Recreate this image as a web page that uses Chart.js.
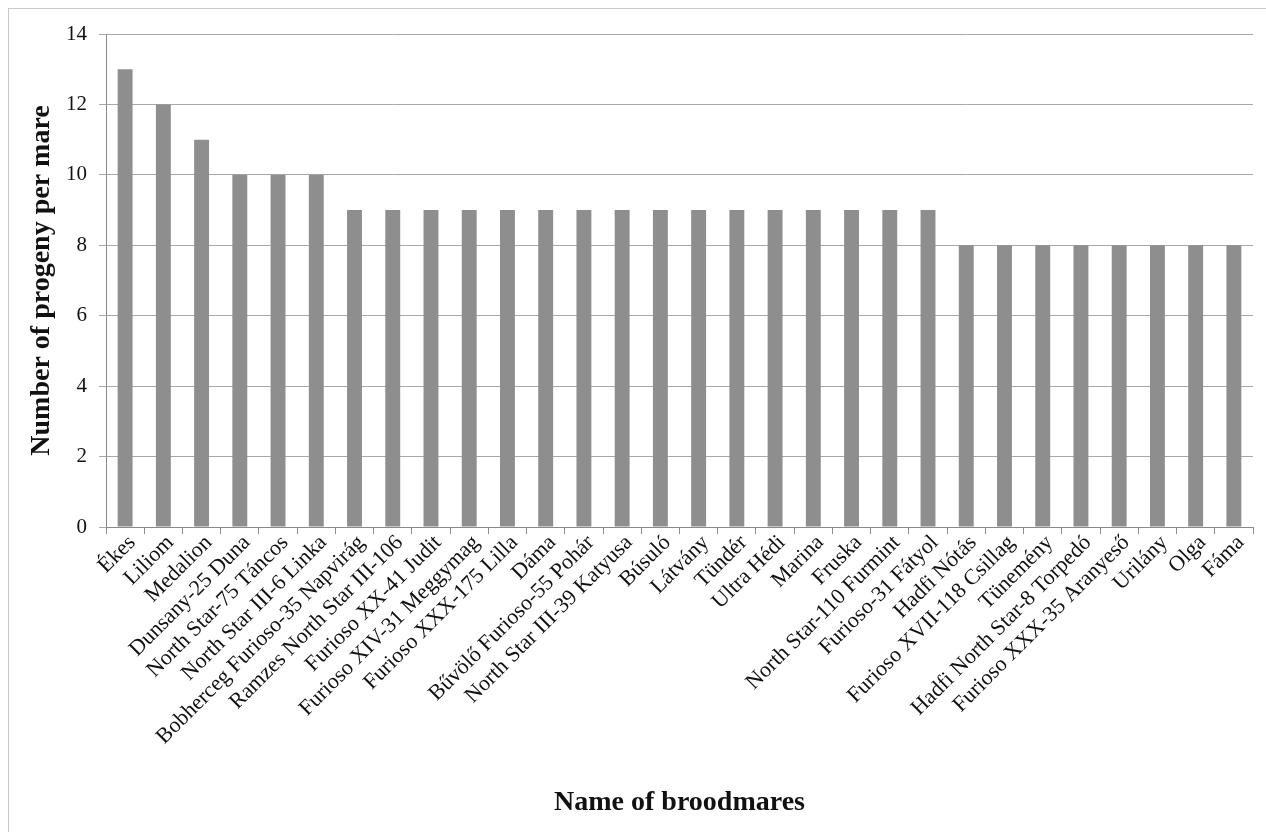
<!DOCTYPE html>
<html>
<head>
<meta charset="utf-8">
<script src="https://cdn.jsdelivr.net/npm/chart.js@4"></script>
<style>
    body { margin: 0; background: #fff; }
    #frame {
        position: absolute; left: 8px; top: 8px;
        width: 1270px; height: 840px;
        border: 1px solid #c8c8c8;
    }
    #wrap { position: absolute; left: 0; top: 0; width: 1266px; height: 832px; }
</style>
</head>
<body>
<div id="frame"></div>
<div id="wrap"><canvas id="progenyChart" width="1266" height="832"></canvas></div>
<script>
let mares = [
    'Ékes', 'Liliom', 'Medalion', 'Dunsany-25 Duna', 'North Star-75 Táncos',
    'North Star III-6 Linka', 'Bobherceg Furioso-35 Napvirág', 'Ramzes North Star III-106',
    'Furioso XX-41 Judit', 'Furioso XIV-31 Meggymag', 'Furioso XXX-175 Lilla', 'Dáma',
    'Bűvölő Furioso-55 Pohár', 'North Star III-39 Katyusa', 'Búsuló', 'Látvány', 'Tündér',
    'Ultra Hédi', 'Marina', 'Fruska', 'North Star-110 Furmint', 'Furioso-31 Fátyol',
    'Hadfi Nótás', 'Furioso XVII-118 Csillag', 'Tünemény', 'Hadfi North Star-8 Torpedó',
    'Furioso XXX-35 Aranyeső', 'Urilány', 'Olga', 'Fáma'
];
let progeny = [
    13, 12, 11, 10, 10, 10,
    9, 9, 9, 9, 9, 9, 9, 9, 9, 9, 9, 9, 9, 9, 9, 9,
    8, 8, 8, 8, 8, 8, 8, 8
];
let yTicks = [0, 2, 4, 6, 8, 10, 12, 14];

const serif = "'Liberation Serif', 'Times New Roman', serif";

new Chart(document.getElementById('progenyChart'), {
    type: 'bar',
    data: {
        labels: mares,
        datasets: [{
            data: progeny,
            backgroundColor: '#8e8e8e',
            categoryPercentage: 1,
            barPercentage: 0.39
        }]
    },
    options: {
        responsive: false,
        animation: false,
        layout: { padding: { top: 34, right: 13, bottom: 0, left: 0 } },
        plugins: { legend: { display: false }, tooltip: { enabled: false } },
        scales: {
            x: {
                grid: { drawOnChartArea: false, color: '#8a8a8a', tickLength: 7 },
                border: { color: '#8a8a8a' },
                ticks: {
                    autoSkip: false,
                    minRotation: 45,
                    maxRotation: 45,
                    color: '#111',
                    padding: -4,
                    labelOffset: 7,
                    font: { family: serif, size: 22 }
                },
                title: {
                    display: true,
                    text: 'Name of broodmares',
                    color: '#111',
                    font: { family: serif, size: 28, weight: 'bold' },
                    padding: { top: 0, bottom: 12 }
                },
                afterFit: scale => { scale.height = 305; }
            },
            y: {
                min: yTicks[0],
                max: yTicks[yTicks.length - 1],
                afterBuildTicks: scale => { scale.ticks = yTicks.map(v => ({ value: v })); },
                grid: { color: '#a8a8a8', tickLength: 7 },
                border: { color: '#8a8a8a' },
                ticks: {
                    color: '#111',
                    padding: 12,
                    font: { family: serif, size: 21 }
                },
                title: {
                    display: true,
                    text: 'Number of progeny per mare',
                    color: '#111',
                    font: { family: serif, size: 28, weight: 'bold' },
                    padding: { top: 25, bottom: 0 }
                },
                afterFit: scale => { scale.width = 106; }
            }
        }
    }
});
</script>
</body>
</html>
